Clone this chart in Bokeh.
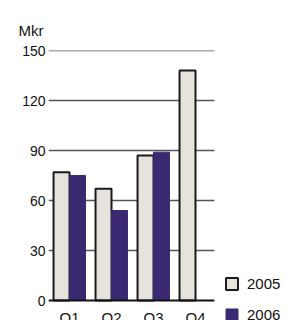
from bokeh.plotting import figure
from bokeh.models import ColumnDataSource, FixedTicker, Legend, LegendItem, Range1d
from bokeh.core.properties import value
from bokeh.embed import file_html
from bokeh.resources import INLINE

quarters = ["Q1", "Q2", "Q3", "Q4"]
values_2005 = [77, 67, 87, 138]
values_2006 = [75, 54, 89, None]
y_ticks = [0, 30, 60, 90, 120, 150]
unit_label = "Mkr"
series_names = ["2005", "2006"]

FONT = "Liberation Sans"
C2005 = "#e6e2dc"
C2006 = "#3a2872"

W, H = 292, 320
LEFT, TOP, ZERO_Y = 48, 50, 300
px_per_unit = (ZERO_Y - TOP) / 150.0
y_bottom = -(H - ZERO_Y) / px_per_unit
group_px = 42.0

pos = list(range(len(quarters)))
off = 0.19
bw = 0.38

src05 = ColumnDataSource(dict(x=[p - off for p in pos], top=values_2005))
x06 = [p + off for p, v in zip(pos, values_2006) if v is not None]
v06 = [v for v in values_2006 if v is not None]
src06 = ColumnDataSource(dict(x=x06, top=v06))
srclab = ColumnDataSource(dict(x=pos, y=[-5] * len(pos), text=quarters))

p = figure(width=W, height=H, output_backend="svg", toolbar_location=None,
           x_range=Range1d(-0.5, -0.5 + (W - LEFT) / group_px),
           y_range=Range1d(y_bottom, 150),
           min_border_left=LEFT, min_border_right=0, min_border_top=TOP, min_border_bottom=0,
           title=unit_label)
p.outline_line_color = None
p.background_fill_color = "white"
p.border_fill_color = "white"
p.grid.visible = False
p.xaxis.visible = False

p.title.text_font = FONT
p.title.text_font_size = "15px"
p.title.text_font_style = "normal"
p.title.text_color = "#111111"
p.title.align = "left"
p.title.offset = -30
p.title.standoff = 23

x_end = 3.45
p.segment(x0=[-0.5] * (len(y_ticks) - 1), x1=[x_end] * (len(y_ticks) - 1),
          y0=y_ticks[1:], y1=y_ticks[1:], line_color="#555555", line_width=1.5)

r05 = p.vbar(x="x", top="top", width=bw, source=src05, fill_color=C2005,
             line_color="#1a1a1a", line_width=2)
r06 = p.vbar(x="x", top="top", width=bw, source=src06, fill_color=C2006,
             line_color=C2006, line_width=1)

p.segment(x0=[-0.5], x1=[x_end], y0=[0], y1=[0], line_color="#111111", line_width=2)

p.text(x="x", y="y", text="text", source=srclab, text_align="center", text_baseline="top",
       text_font=value(FONT), text_font_size="15px", text_color="#111111")

p.yaxis.ticker = FixedTicker(ticks=y_ticks)
p.yaxis.axis_line_color = None
p.yaxis.major_tick_line_color = None
p.yaxis.minor_tick_line_color = None
p.yaxis.major_tick_out = 0
p.yaxis.major_tick_in = 0
p.yaxis.major_label_standoff = 3
p.yaxis.major_label_text_font = FONT
p.yaxis.major_label_text_font_size = "14px"
p.yaxis.major_label_text_color = "#111111"

legend = Legend(items=[LegendItem(label=series_names[0], renderers=[r05]),
                       LegendItem(label=series_names[1], renderers=[r06])],
                location=(176, -3))
legend.padding = 0
legend.margin = 0
legend.spacing = 14
legend.glyph_height = 15
legend.glyph_width = 15
legend.label_height = 15
legend.label_standoff = 8
legend.label_text_font = FONT
legend.label_text_font_size = "15px"
legend.label_text_color = "#111111"
legend.border_line_alpha = 0
legend.background_fill_alpha = 0
p.add_layout(legend)

open("out.html", "w").write(file_html(p, INLINE))
